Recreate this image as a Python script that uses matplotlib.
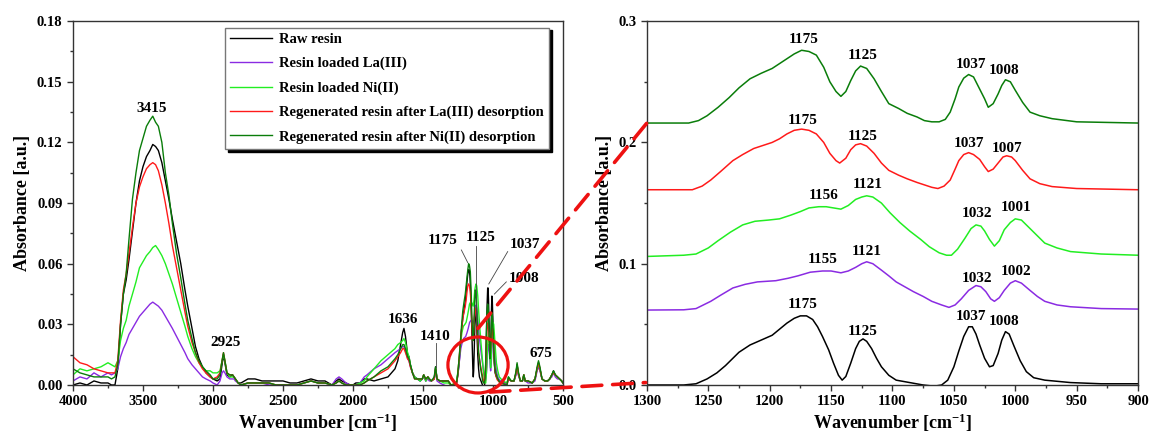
import numpy as np
import matplotlib
matplotlib.use('Agg')
import matplotlib.pyplot as plt
from matplotlib.patches import Ellipse, ConnectionPatch
from matplotlib.ticker import MultipleLocator

plt.rcParams['font.family'] = 'Liberation Serif'
plt.rcParams['font.weight'] = 'bold'
plt.rcParams['axes.labelweight'] = 'bold'
plt.rcParams['mathtext.fontset'] = 'custom'
plt.rcParams['mathtext.rm'] = 'Liberation Serif:bold'
plt.rcParams['mathtext.it'] = 'Liberation Serif:bold'
plt.rcParams['mathtext.bf'] = 'Liberation Serif:bold'

names = ['Raw resin', 'Resin loaded La(III)', 'Resin loaded Ni(II)',
         'Regenerated resin after La(III) desorption',
         'Regenerated resin after Ni(II) desorption']
colors = ['#000000', '#8a2be2', '#22ee22', '#ff1a1a', '#0a7d0a']
offsets = [0.0, 0.062, 0.106, 0.161, 0.216]

# ---- full spectrum, 4000-1320 cm-1 ----
xA = [4000, 3950, 3900, 3850, 3800, 3750, 3725,
      3700, 3680, 3660, 3640, 3620, 3600, 3575, 3550, 3525, 3500, 3475, 3450, 3430, 3410,
      3390, 3365, 3340, 3315, 3290, 3260, 3230, 3200, 3180, 3150, 3125, 3100, 3075, 3050, 3020, 3000,
      2970, 2950, 2935, 2925, 2915, 2900, 2880, 2860, 2850, 2840, 2820, 2800,
      2750, 2700, 2650, 2600, 2550, 2500, 2450, 2400, 2350, 2300, 2250, 2200, 2150, 2120, 2100, 2080, 2050, 2020, 2000,
      1980, 1950, 1920, 1900, 1850, 1800, 1750, 1700,
      1680, 1660, 1645, 1636, 1625, 1610, 1600, 1590, 1575, 1560, 1540, 1520, 1505, 1495, 1480, 1465, 1455, 1440, 1420, 1410, 1400, 1380, 1350, 1320]

raw_A = [0.000, 0.001, 0.000, 0.002, 0.001, 0.001, 0.000,
         0.000, 0.008, 0.030, 0.045, 0.052, 0.062, 0.076, 0.090, 0.101, 0.108, 0.113, 0.116, 0.119, 0.118,
         0.116, 0.110, 0.101, 0.092, 0.082, 0.071, 0.060, 0.047, 0.039, 0.028, 0.019, 0.013, 0.009, 0.006, 0.004, 0.003,
         0.002, 0.003, 0.010, 0.015, 0.011, 0.005, 0.004, 0.005, 0.004, 0.003, 0.001, 0.001,
         0.003, 0.003, 0.002, 0.002, 0.002, 0.002, 0.001, 0.001, 0.002, 0.003, 0.002, 0.002, 0.000, 0.002, 0.003, 0.002, 0.001, 0.000, 0.000,
         0.001, 0.001, 0.003, 0.003, 0.002, 0.003, 0.004, 0.008,
         0.012, 0.020, 0.026, 0.028, 0.024, 0.015, 0.014, 0.010, 0.006, 0.004, 0.003, 0.002, 0.003, 0.005, 0.002, 0.004, 0.003, 0.002, 0.003, 0.009, 0.003, 0.002, 0.002, 0.002]

la_A = [0.002, 0.004, 0.003, 0.006, 0.004, 0.006, 0.005,
        0.006, 0.008, 0.014, 0.018, 0.021, 0.025, 0.028, 0.031, 0.034, 0.036, 0.038, 0.040, 0.041, 0.040,
        0.039, 0.037, 0.034, 0.031, 0.028, 0.024, 0.020, 0.016, 0.013, 0.010, 0.008, 0.006, 0.004, 0.003, 0.002, 0.001,
        0.000, 0.002, 0.006, 0.007, 0.006, 0.004, 0.003, 0.003, 0.003, 0.002, 0.001, 0.000,
        0.001, 0.001, 0.001, 0.000, 0.000, 0.000, 0.000, 0.000, 0.001, 0.002, 0.001, 0.001, 0.000, 0.003, 0.004, 0.003, 0.001, 0.000, 0.000,
        0.000, 0.001, 0.004, 0.005, 0.008, 0.010, 0.013, 0.016,
        0.017, 0.018, 0.019, 0.019, 0.017, 0.013, 0.012, 0.009, 0.006, 0.004, 0.003, 0.002, 0.003, 0.004, 0.002, 0.003, 0.002, 0.002, 0.003, 0.007, 0.002, 0.001, 0.000, -0.001]

ni_A = [0.005, 0.008, 0.007, 0.008, 0.009, 0.011, 0.010,
        0.009, 0.012, 0.022, 0.028, 0.032, 0.039, 0.045, 0.051, 0.058, 0.061, 0.064, 0.066, 0.068, 0.069,
        0.067, 0.064, 0.060, 0.055, 0.050, 0.043, 0.036, 0.029, 0.024, 0.018, 0.014, 0.011, 0.009, 0.007, 0.007, 0.006,
        0.006, 0.007, 0.012, 0.015, 0.012, 0.006, 0.004, 0.004, 0.004, 0.003, 0.001, 0.000,
        0.001, 0.001, 0.001, 0.001, 0.000, 0.000, 0.000, 0.000, 0.001, 0.002, 0.001, 0.001, 0.000, 0.001, 0.002, 0.001, 0.000, 0.000, 0.000,
        0.000, 0.001, 0.002, 0.004, 0.008, 0.012, 0.015, 0.018,
        0.020, 0.021, 0.022, 0.023, 0.021, 0.016, 0.014, 0.010, 0.006, 0.004, 0.003, 0.002, 0.003, 0.005, 0.002, 0.004, 0.003, 0.002, 0.003, 0.008, 0.003, 0.002, 0.001, 0.001]

regla_A = [0.014, 0.011, 0.010, 0.008, 0.007, 0.006, 0.006,
           0.006, 0.012, 0.032, 0.047, 0.055, 0.065, 0.078, 0.090, 0.098, 0.103, 0.107, 0.109, 0.110, 0.109,
           0.106, 0.099, 0.090, 0.080, 0.069, 0.058, 0.047, 0.036, 0.029, 0.021, 0.016, 0.011, 0.008, 0.006, 0.004, 0.003,
           0.004, 0.006, 0.012, 0.016, 0.012, 0.006, 0.005, 0.005, 0.004, 0.003, 0.001, 0.000,
           0.001, 0.001, 0.001, 0.001, 0.000, 0.000, 0.000, 0.000, 0.001, 0.002, 0.001, 0.001, 0.000, 0.001, 0.002, 0.001, 0.000, 0.000, 0.000,
           0.000, 0.000, 0.001, 0.002, 0.004, 0.006, 0.008, 0.012,
           0.014, 0.016, 0.018, 0.018, 0.016, 0.013, 0.012, 0.009, 0.006, 0.003, 0.003, 0.003, 0.003, 0.005, 0.003, 0.004, 0.003, 0.002, 0.003, 0.008, 0.003, 0.002, 0.002, 0.002]

regni_A = [0.008, 0.006, 0.005, 0.004, 0.004, 0.004, 0.003,
           0.004, 0.010, 0.030, 0.045, 0.055, 0.072, 0.092, 0.105, 0.116, 0.122, 0.128, 0.131, 0.133, 0.130,
           0.128, 0.120, 0.105, 0.094, 0.080, 0.065, 0.053, 0.040, 0.032, 0.023, 0.016, 0.012, 0.009, 0.007, 0.005, 0.003,
           0.003, 0.005, 0.012, 0.016, 0.012, 0.006, 0.005, 0.005, 0.004, 0.003, 0.001, 0.000,
           0.001, 0.001, 0.001, 0.001, 0.000, 0.000, 0.000, 0.000, 0.001, 0.002, 0.001, 0.001, 0.000, 0.001, 0.002, 0.001, 0.000, 0.000, 0.000,
           0.000, 0.000, 0.001, 0.002, 0.004, 0.007, 0.009, 0.013,
           0.015, 0.018, 0.020, 0.020, 0.018, 0.014, 0.013, 0.010, 0.006, 0.003, 0.003, 0.003, 0.003, 0.005, 0.003, 0.004, 0.003, 0.002, 0.004, 0.009, 0.003, 0.002, 0.002, 0.002]

# ---- full spectrum, 890-500 cm-1 ----
xB = [890, 870, 850, 835, 828, 820, 805, 790, 780, 770, 750, 720, 700, 685, 675, 665, 650, 630, 610, 595, 580, 568, 555, 540, 525, 510, 500]
raw_B = [0.003, 0.002, 0.002, 0.006, 0.010, 0.006, 0.002, 0.002, 0.005, 0.002, 0.002, 0.001, 0.003, 0.008, 0.011, 0.008, 0.003, 0.002, 0.002, 0.003, 0.005, 0.007, 0.005, 0.004, 0.003, 0.002, 0.001]
la_B = [0.003, 0.002, 0.002, 0.005, 0.008, 0.005, 0.002, 0.002, 0.004, 0.002, 0.001, 0.001, 0.002, 0.007, 0.009, 0.007, 0.003, 0.002, 0.002, 0.003, 0.004, 0.006, 0.004, 0.003, 0.003, 0.002, 0.001]
ni_B = [0.004, 0.002, 0.002, 0.006, 0.010, 0.006, 0.002, 0.002, 0.005, 0.002, 0.002, 0.001, 0.003, 0.008, 0.010, 0.008, 0.003, 0.002, 0.002, 0.003, 0.005, 0.006, 0.005, 0.004, 0.003, 0.002, 0.001]
regla_B = [0.003, 0.002, 0.002, 0.006, 0.010, 0.006, 0.002, 0.002, 0.005, 0.002, 0.002, 0.001, 0.003, 0.008, 0.011, 0.008, 0.003, 0.002, 0.002, 0.003, 0.005, 0.006, 0.005, 0.004, 0.003, 0.002, 0.001]
regni_B = [0.004, 0.002, 0.002, 0.007, 0.011, 0.007, 0.002, 0.002, 0.005, 0.002, 0.002, 0.001, 0.003, 0.009, 0.012, 0.009, 0.003, 0.002, 0.002, 0.003, 0.005, 0.007, 0.005, 0.004, 0.003, 0.002, 0.001]

# ---- zoomed region 1300-900 cm-1 (stacked) ----
raw_zx = [1300, 1270, 1260, 1251, 1243, 1236, 1225, 1216, 1207, 1198, 1192, 1186, 1180, 1175, 1170, 1165, 1161, 1157, 1152, 1148,
          1144, 1141, 1138, 1134, 1130, 1127, 1124, 1121, 1117, 1113, 1109, 1103, 1097, 1086, 1075, 1066, 1060, 1055, 1050, 1046,
          1042, 1038, 1035, 1032, 1029, 1025, 1021, 1018, 1014, 1011, 1008, 1005, 1001, 996, 991, 985, 976, 955, 930, 900]
raw_zy = [0.000, 0.000, 0.001, 0.005, 0.010, 0.016, 0.027, 0.033, 0.037, 0.041, 0.046, 0.051, 0.055, 0.057, 0.057, 0.054, 0.048, 0.040, 0.029, 0.018,
          0.008, 0.004, 0.007, 0.018, 0.030, 0.036, 0.038, 0.036, 0.030, 0.022, 0.015, 0.008, 0.004, 0.002, 0.000, -0.001, 0.000, 0.004, 0.015, 0.028,
          0.040, 0.048, 0.048, 0.042, 0.033, 0.022, 0.015, 0.016, 0.026, 0.037, 0.044, 0.042, 0.032, 0.020, 0.011, 0.006, 0.004, 0.002, 0.001, 0.001]

la_zx = [1300, 1270, 1260, 1248, 1240, 1230, 1220, 1210, 1195, 1185, 1177, 1167, 1157, 1150, 1142, 1136, 1130, 1125, 1121, 1116,
         1109, 1103, 1097, 1090, 1083, 1075, 1068, 1060, 1054, 1049, 1044, 1038, 1032, 1028, 1024, 1020, 1017, 1013, 1009, 1004,
         1000, 995, 988, 982, 976, 966, 955, 930, 900]
la_zy = [0.0618, 0.062, 0.063, 0.069, 0.074, 0.080, 0.083, 0.085, 0.086, 0.088, 0.090, 0.093, 0.094, 0.094, 0.0925, 0.094, 0.097, 0.100, 0.1016, 0.100,
         0.0947, 0.090, 0.085, 0.081, 0.077, 0.073, 0.069, 0.066, 0.064, 0.066, 0.071, 0.078, 0.082, 0.081, 0.077, 0.071, 0.069, 0.072, 0.078, 0.084,
         0.086, 0.084, 0.078, 0.073, 0.069, 0.066, 0.0645, 0.063, 0.0626]

ni_zx = [1300, 1270, 1260, 1250, 1242, 1232, 1222, 1212, 1201, 1192, 1183, 1175, 1168, 1160, 1154, 1148, 1142, 1136, 1130, 1125,
         1121, 1116, 1109, 1102, 1094, 1086, 1077, 1070, 1062, 1056, 1052, 1047, 1041, 1036, 1032, 1028, 1025, 1021, 1017, 1013,
         1009, 1004, 1000, 995, 988, 982, 976, 966, 955, 930, 900]
ni_zy = [0.106, 0.107, 0.108, 0.113, 0.119, 0.126, 0.132, 0.135, 0.136, 0.137, 0.140, 0.143, 0.146, 0.147, 0.147, 0.146, 0.145, 0.148, 0.153, 0.155,
         0.156, 0.155, 0.150, 0.142, 0.134, 0.127, 0.120, 0.114, 0.109, 0.107, 0.107, 0.112, 0.121, 0.129, 0.132, 0.131, 0.127, 0.120, 0.1145, 0.119,
         0.128, 0.134, 0.137, 0.136, 0.129, 0.123, 0.117, 0.113, 0.110, 0.108, 0.107]

regla_zx = [1300, 1263, 1255, 1248, 1240, 1230, 1222, 1213, 1198, 1192, 1186, 1180, 1174, 1168, 1162, 1156, 1151, 1146, 1143, 1138,
            1134, 1130, 1126, 1121, 1115, 1109, 1103, 1095, 1088, 1080, 1074, 1068, 1063, 1058, 1053, 1049, 1046, 1042, 1038, 1034,
            1029, 1025, 1022, 1018, 1014, 1010, 1007, 1003, 1000, 994, 988, 980, 970, 950, 900]
regla_zy = [0.161, 0.161, 0.164, 0.169, 0.176, 0.185, 0.190, 0.195, 0.200, 0.203, 0.207, 0.210, 0.211, 0.210, 0.207, 0.200, 0.191, 0.185, 0.183, 0.187,
            0.194, 0.198, 0.199, 0.197, 0.191, 0.183, 0.177, 0.173, 0.170, 0.167, 0.165, 0.163, 0.162, 0.164, 0.169, 0.178, 0.185, 0.190, 0.1916, 0.190,
            0.186, 0.180, 0.176, 0.178, 0.183, 0.188, 0.189, 0.188, 0.185, 0.177, 0.170, 0.166, 0.1636, 0.162, 0.161]

regni_zx = [1300, 1266, 1258, 1251, 1242, 1233, 1225, 1216, 1207, 1198, 1192, 1186, 1180, 1174, 1168, 1162, 1156, 1151, 1146, 1142,
            1138, 1134, 1130, 1126, 1121, 1115, 1109, 1103, 1095, 1088, 1080, 1074, 1068, 1062, 1057, 1053, 1049, 1046, 1042, 1038,
            1034, 1029, 1025, 1022, 1018, 1014, 1011, 1008, 1004, 1000, 994, 988, 980, 970, 950, 900]
regni_zy = [0.216, 0.216, 0.218, 0.222, 0.229, 0.237, 0.245, 0.2525, 0.257, 0.261, 0.265, 0.269, 0.273, 0.276, 0.275, 0.272, 0.262, 0.250, 0.242, 0.238,
            0.242, 0.251, 0.259, 0.263, 0.261, 0.2525, 0.242, 0.232, 0.228, 0.224, 0.221, 0.218, 0.217, 0.217, 0.219, 0.225, 0.236, 0.2457, 0.253, 0.256,
            0.254, 0.244, 0.236, 0.229, 0.232, 0.240, 0.247, 0.2517, 0.250, 0.243, 0.233, 0.225, 0.222, 0.2196, 0.217, 0.216]

# peak labels on the stacked panel: (wavenumber, y, text)
zoom_labels = [
    [(1173, 0.0664, '1175'), (1124, 0.0439, '1125'), (1036, 0.0568, '1037'), (1009, 0.0527, '1008')],
    [(1157, 0.1035, '1155'), (1121, 0.1098, '1121'), (1031, 0.0878, '1032'), (999, 0.0933, '1002')],
    [(1156, 0.156, '1156'), (1120, 0.165, '1121'), (1031, 0.141, '1032'), (999, 0.146, '1001')],
    [(1173, 0.218, '1175'), (1124, 0.205, '1125'), (1038, 0.199, '1037'), (1007, 0.1954, '1007')],
    [(1172, 0.285, '1175'), (1124, 0.272, '1125'), (1036, 0.264, '1037'), (1009, 0.259, '1008')],
]

full_A = [raw_A, la_A, ni_A, regla_A, regni_A]
full_B = [raw_B, la_B, ni_B, regla_B, regni_B]
zx = [raw_zx, la_zx, ni_zx, regla_zx, regni_zx]
zy = [raw_zy, la_zy, ni_zy, regla_zy, regni_zy]

fig = plt.figure(figsize=(11.49, 4.41), dpi=100)
ax1 = fig.add_axes([0.0635, 0.127, 0.4265, 0.825])
ax2 = fig.add_axes([0.563, 0.127, 0.4275, 0.825])

for i in range(5):
    x = list(xA) + list(zx[i]) + list(xB)
    y = list(full_A[i]) + list(np.array(zy[i]) - offsets[i]) + list(full_B[i])
    ax1.plot(x, y, color=colors[i], lw=1.0, label=names[i])
    ax2.plot(zx[i], zy[i], color=colors[i], lw=1.1)

for ax in (ax1, ax2):
    for s in ax.spines.values():
        s.set_linewidth(1.0)
        s.set_color('#333333')
    ax.tick_params(which='both', direction='out', width=1.0, labelsize=10.5, color='#333333')
    ax.tick_params(which='major', length=4)
    ax.tick_params(which='minor', length=2.5)
    ax.set_xlabel(r'Wavenumber [cm$^{-1}$]', fontsize=13, labelpad=2)
    ax.set_ylabel('Absorbance [a.u.]', fontsize=13, labelpad=4)

ax1.set_xlim(4000, 500)
ax1.set_ylim(0, 0.18)
ax1.xaxis.set_major_locator(MultipleLocator(500))
ax1.xaxis.set_minor_locator(MultipleLocator(250))
ax1.yaxis.set_major_locator(MultipleLocator(0.03))
ax1.yaxis.set_minor_locator(MultipleLocator(0.015))
ax1.yaxis.set_major_formatter(matplotlib.ticker.FormatStrFormatter('%.2f'))

ax2.set_xlim(1300, 900)
ax2.set_ylim(0, 0.3)
ax2.xaxis.set_major_locator(MultipleLocator(50))
ax2.xaxis.set_minor_locator(MultipleLocator(25))
ax2.yaxis.set_major_locator(MultipleLocator(0.1))
ax2.yaxis.set_minor_locator(MultipleLocator(0.05))
ax2.yaxis.set_major_formatter(matplotlib.ticker.FormatStrFormatter('%.1f'))

leg = ax1.legend(loc='upper right', bbox_to_anchor=(0.972, 0.982), borderaxespad=0,
                 fontsize=10.5, frameon=True, fancybox=False, shadow={'color': 'black', 'alpha': 1},
                 handlelength=2.9, handletextpad=0.5, labelspacing=0.75, borderpad=0.35)
leg.get_frame().set_edgecolor('#777777')
leg.get_frame().set_linewidth(1.0)
leg.get_frame().set_alpha(1)

# peak labels on the full spectrum
fs = 11
ax1.text(3440, 0.137, '3415', ha='center', va='center', fontsize=fs)
ax1.text(2909, 0.0209, '2925', ha='center', va='center', fontsize=fs)
ax1.text(1640, 0.0324, '1636', ha='center', va='center', fontsize=fs)
ax1.text(1410, 0.0242, '1410', ha='center', va='center', fontsize=fs)
ax1.plot([1410, 1410], [0.009, 0.021], color='#444444', lw=0.6)
ax1.text(1363, 0.0713, '1175', ha='center', va='center', fontsize=fs)
ax1.plot([1226, 1180], [0.0668, 0.0605], color='#444444', lw=0.6)
ax1.text(1086, 0.073, '1125', ha='center', va='center', fontsize=fs)
ax1.plot([1118, 1118], [0.069, 0.030], color='#444444', lw=0.6)
ax1.text(775, 0.0695, '1037', ha='center', va='center', fontsize=fs)
ax1.plot([895, 1030], [0.066, 0.050], color='#444444', lw=0.6)
ax1.text(778, 0.0527, '1008', ha='center', va='center', fontsize=fs)
ax1.plot([905, 990], [0.051, 0.045], color='#444444', lw=0.6)
ax1.text(658, 0.0156, '675', ha='center', va='center', fontsize=fs)

for i in range(5):
    for (wx, wy, t) in zoom_labels[i]:
        ax2.text(wx, wy, t, ha='center', va='center', fontsize=fs)

# red circle and dashed zoom lines
ax1.add_patch(Ellipse((1107, 0.0099), 430, 0.0277, fill=False, edgecolor='#ee1111',
                      lw=2.3, clip_on=False, zorder=6))
for (pa, pb) in [((1107, 0.028), (1300, 0.216)), ((1021, -0.0035), (1301, 0.002))]:
    con = ConnectionPatch(xyA=pa, coordsA=ax1.transData, xyB=pb, coordsB=ax2.transData,
                          color='#ee1111', lw=2.6, linestyle=(0, (5.5, 3)), zorder=10)
    fig.add_artist(con)

fig.savefig('out.png', dpi=100)
